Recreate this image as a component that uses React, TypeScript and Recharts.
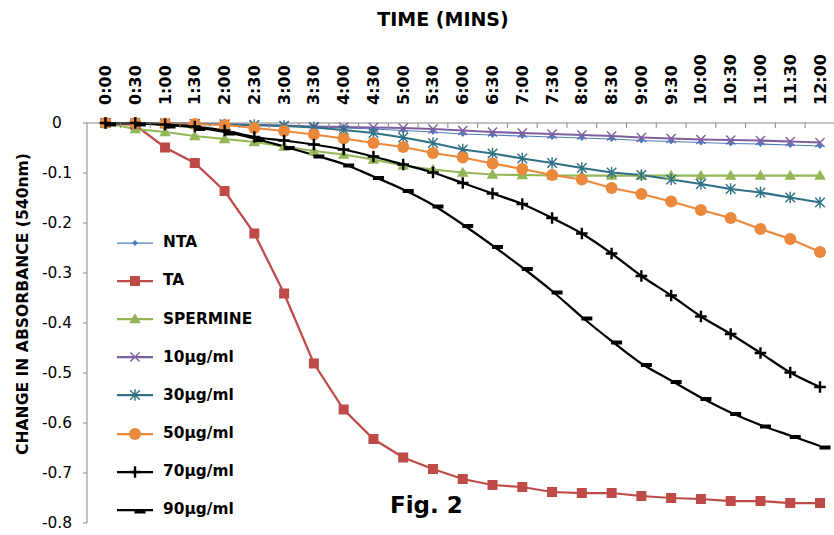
import React from "react";
import { LineChart, Line, XAxis, YAxis, Legend } from "recharts";

// Sampling times (mm:ss style labels, every 30 s up to 12 min)
const times = [
  "0:00", "0:30", "1:00", "1:30", "2:00", "2:30", "3:00", "3:30", "4:00",
  "4:30", "5:00", "5:30", "6:00", "6:30", "7:00", "7:30", "8:00", "8:30",
  "9:00", "9:30", "10:00", "10:30", "11:00", "11:30", "12:00",
];

// Change in absorbance at 540 nm for each treatment
const nta = [0, 0, -0.001, -0.002, -0.003, -0.005, -0.006, -0.008, -0.01, -0.012, -0.015, -0.018, -0.022, -0.024, -0.026, -0.028, -0.03, -0.032, -0.035, -0.037, -0.039, -0.041, -0.042, -0.044, -0.046];
const ta = [0, -0.004, -0.049, -0.08, -0.136, -0.221, -0.341, -0.481, -0.573, -0.632, -0.669, -0.692, -0.712, -0.724, -0.728, -0.738, -0.74, -0.74, -0.746, -0.75, -0.752, -0.756, -0.756, -0.76, -0.76];
const spermine = [0, -0.012, -0.018, -0.026, -0.032, -0.038, -0.047, -0.056, -0.063, -0.073, -0.085, -0.093, -0.099, -0.103, -0.104, -0.105, -0.105, -0.105, -0.105, -0.105, -0.105, -0.105, -0.105, -0.105, -0.105];
const dose10 = [0, 0, 0, -0.001, -0.002, -0.004, -0.005, -0.007, -0.008, -0.009, -0.01, -0.012, -0.015, -0.018, -0.02, -0.022, -0.024, -0.026, -0.029, -0.031, -0.033, -0.034, -0.035, -0.037, -0.039];
const dose30 = [0, 0, -0.001, -0.002, -0.003, -0.004, -0.006, -0.009, -0.014, -0.02, -0.029, -0.04, -0.053, -0.061, -0.071, -0.08, -0.09, -0.099, -0.104, -0.113, -0.122, -0.132, -0.139, -0.149, -0.159];
const dose50 = [0, 0, -0.001, -0.002, -0.004, -0.01, -0.016, -0.023, -0.031, -0.04, -0.048, -0.06, -0.069, -0.081, -0.092, -0.104, -0.113, -0.13, -0.142, -0.157, -0.174, -0.19, -0.212, -0.232, -0.258];
const dose70 = [0, 0, -0.003, -0.007, -0.015, -0.028, -0.035, -0.043, -0.053, -0.067, -0.083, -0.099, -0.12, -0.141, -0.162, -0.19, -0.221, -0.261, -0.306, -0.345, -0.387, -0.422, -0.46, -0.499, -0.528];
const dose90 = [0, 0, -0.004, -0.009, -0.018, -0.031, -0.047, -0.064, -0.082, -0.107, -0.133, -0.164, -0.203, -0.245, -0.289, -0.336, -0.388, -0.436, -0.481, -0.515, -0.549, -0.579, -0.604, -0.625, -0.646];

const yTicks = [0, -0.1, -0.2, -0.3, -0.4, -0.5, -0.6, -0.7, -0.8];

type MarkerKind = "diamond" | "square" | "triangle" | "x" | "star" | "circle" | "plus" | "dash";

interface SeriesDef {
  key: string;
  name: string;
  values: number[];
  color: string;
  width: number;
  marker: MarkerKind;
  curve: "linear" | "monotone";
}

const SERIES: SeriesDef[] = [
  { key: "nta", name: "NTA", values: nta, color: "#4A7EBB", width: 1.25, marker: "diamond", curve: "linear" },
  { key: "ta", name: "TA", values: ta, color: "#BE4B48", width: 2.25, marker: "square", curve: "linear" },
  { key: "spermine", name: "SPERMINE", values: spermine, color: "#93B657", width: 2.25, marker: "triangle", curve: "linear" },
  { key: "d10", name: "10µg/ml", values: dose10, color: "#7D5FA0", width: 2.25, marker: "x", curve: "linear" },
  { key: "d30", name: "30µg/ml", values: dose30, color: "#2E7185", width: 2.25, marker: "star", curve: "linear" },
  { key: "d50", name: "50µg/ml", values: dose50, color: "#EA893C", width: 2.25, marker: "circle", curve: "linear" },
  { key: "d70", name: "70µg/ml", values: dose70, color: "#000000", width: 2.25, marker: "plus", curve: "monotone" },
  { key: "d90", name: "90µg/ml", values: dose90, color: "#000000", width: 2.25, marker: "dash", curve: "monotone" },
];

const data = times.map((time, i) => {
  const row: Record<string, string | number> = { time };
  SERIES.forEach((s) => {
    row[s.key] = s.values[i];
  });
  return row;
});

const FONT = "'DejaVu Sans', sans-serif";
const AXIS = "#868686";

const W = 834;
const H = 535;
const Y_AXIS_W = 87;
const X_AXIS_H = 123;
const PAD_L = 18.5;
const PAD_R = 14;
const STEP = (W - Y_AXIS_W - PAD_L - PAD_R) / (times.length - 1);

function Marker({ kind, cx, cy, color }: { kind: MarkerKind; cx: number; cy: number; color: string }) {
  switch (kind) {
    case "diamond": {
      const r = 3;
      return <path d={`M${cx},${cy - r}L${cx + r},${cy}L${cx},${cy + r}L${cx - r},${cy}Z`} fill={color} />;
    }
    case "square": {
      const s = 5;
      return <rect x={cx - s} y={cy - s} width={2 * s} height={2 * s} fill={color} />;
    }
    case "triangle":
      return <path d={`M${cx},${cy - 5.8}L${cx + 5.8},${cy + 4.3}L${cx - 5.8},${cy + 4.3}Z`} fill={color} />;
    case "x": {
      const r = 4.6;
      return (
        <path d={`M${cx - r},${cy - r}L${cx + r},${cy + r}M${cx - r},${cy + r}L${cx + r},${cy - r}`} stroke={color} strokeWidth={1.4} fill="none" />
      );
    }
    case "star": {
      const r = 4.8;
      return (
        <path
          d={`M${cx - r},${cy - r}L${cx + r},${cy + r}M${cx - r},${cy + r}L${cx + r},${cy - r}M${cx},${cy - r - 1}L${cx},${cy + r + 1}`}
          stroke={color}
          strokeWidth={1.4}
          fill="none"
        />
      );
    }
    case "circle":
      return <circle cx={cx} cy={cy} r={6} fill={color} />;
    case "plus": {
      const r = 5.8;
      return <path d={`M${cx - r},${cy}L${cx + r},${cy}M${cx},${cy - r}L${cx},${cy + r}`} stroke={color} strokeWidth={2.4} fill="none" />;
    }
    case "dash":
      return <rect x={cx - 0.5} y={cy - 0.5} width={11} height={4} fill={color} />;
    default:
      return null;
  }
}

function TimeTick(props: any) {
  const { x, y, payload, index } = props;
  const ty = y - 18;
  return (
    <g>
      <text
        x={x}
        y={ty}
        transform={`rotate(-90 ${x} ${ty})`}
        textAnchor="start"
        dominantBaseline="central"
        fontFamily={FONT}
        fontWeight={700}
        fontSize={16}
        fill="#000"
      >
        {payload.value}
      </text>
      {index > 0 && <line x1={x - STEP / 2} x2={x - STEP / 2} y1={y} y2={y + 5} stroke={AXIS} strokeWidth={1} />}
    </g>
  );
}

function LegendBox() {
  return (
    <div style={{ fontFamily: FONT, fontWeight: 700, fontSize: 15.4, color: "#000" }}>
      {SERIES.map((s) => (
        <div key={s.key} style={{ height: 38.1, display: "flex", alignItems: "center" }}>
          <svg width={36} height={16} style={{ overflow: "visible", flex: "none" }}>
            <line x1={0} x2={36} y1={8} y2={8} stroke={s.color} strokeWidth={s.width} />
            <Marker kind={s.marker} cx={18} cy={8} color={s.color} />
          </svg>
          <span style={{ marginLeft: 10, lineHeight: 1, whiteSpace: "nowrap" }}>{s.name}</span>
        </div>
      ))}
    </div>
  );
}

export default function App() {
  return (
    <div style={{ position: "absolute", left: 0, top: 0, width: W, height: H, background: "#fff" }}>
      <LineChart width={W} height={H} data={data} margin={{ top: 0, right: 0, bottom: 12, left: 0 }}>
        <XAxis
          dataKey="time"
          orientation="top"
          height={X_AXIS_H}
          interval={0}
          padding={{ left: PAD_L, right: PAD_R }}
          tickLine={false}
          tickSize={0}
          tickMargin={0}
          axisLine={{ stroke: AXIS, strokeWidth: 1 }}
          tick={(p: any) => <TimeTick {...p} />}
          label={{
            value: "TIME (MINS)",
            content: () => (
              <text x={443} y={26} textAnchor="middle" fontFamily={FONT} fontWeight={700} fontSize={19} fill="#000">
                TIME (MINS)
              </text>
            ),
          }}
        />
        <YAxis
          type="number"
          domain={[-0.8, 0]}
          ticks={yTicks}
          interval={0}
          width={Y_AXIS_W}
          tickSize={4}
          tickMargin={26}
          axisLine={{ stroke: AXIS, strokeWidth: 1 }}
          tickLine={{ stroke: AXIS, strokeWidth: 1 }}
          tick={{ textAnchor: "middle", fill: "#000", fontSize: 15.4, fontFamily: FONT }}
          tickFormatter={(v: number) => (v === 0 ? "0" : v.toFixed(1))}
          label={{
            value: "CHANGE IN ABSORBANCE (540nm)",
            content: () => (
              <text
                x={28}
                y={304}
                transform="rotate(-90 28 304)"
                textAnchor="middle"
                fontFamily={FONT}
                fontWeight={700}
                fontSize={15.6}
                fill="#000"
              >
                CHANGE IN ABSORBANCE (540nm)
              </text>
            ),
          }}
        />
        <Legend
          layout="vertical"
          align="center"
          verticalAlign="middle"
          content={() => <LegendBox />}
          wrapperStyle={{ position: "absolute", left: 117, top: 224, width: 220, height: 305 }}
        />
        {SERIES.map((s) => (
          <Line
            key={s.key}
            dataKey={s.key}
            name={s.name}
            type={s.curve}
            stroke={s.color}
            strokeWidth={s.width}
            isAnimationActive={false}
            dot={(p: any) => <Marker key={`${s.key}-${p.index}`} kind={s.marker} cx={p.cx} cy={p.cy} color={s.color} />}
            activeDot={false}
          />
        ))}
        <text x={390} y={513} fontFamily={FONT} fontWeight={700} fontSize={23} fill="#000">
          Fig. 2
        </text>
      </LineChart>
    </div>
  );
}
